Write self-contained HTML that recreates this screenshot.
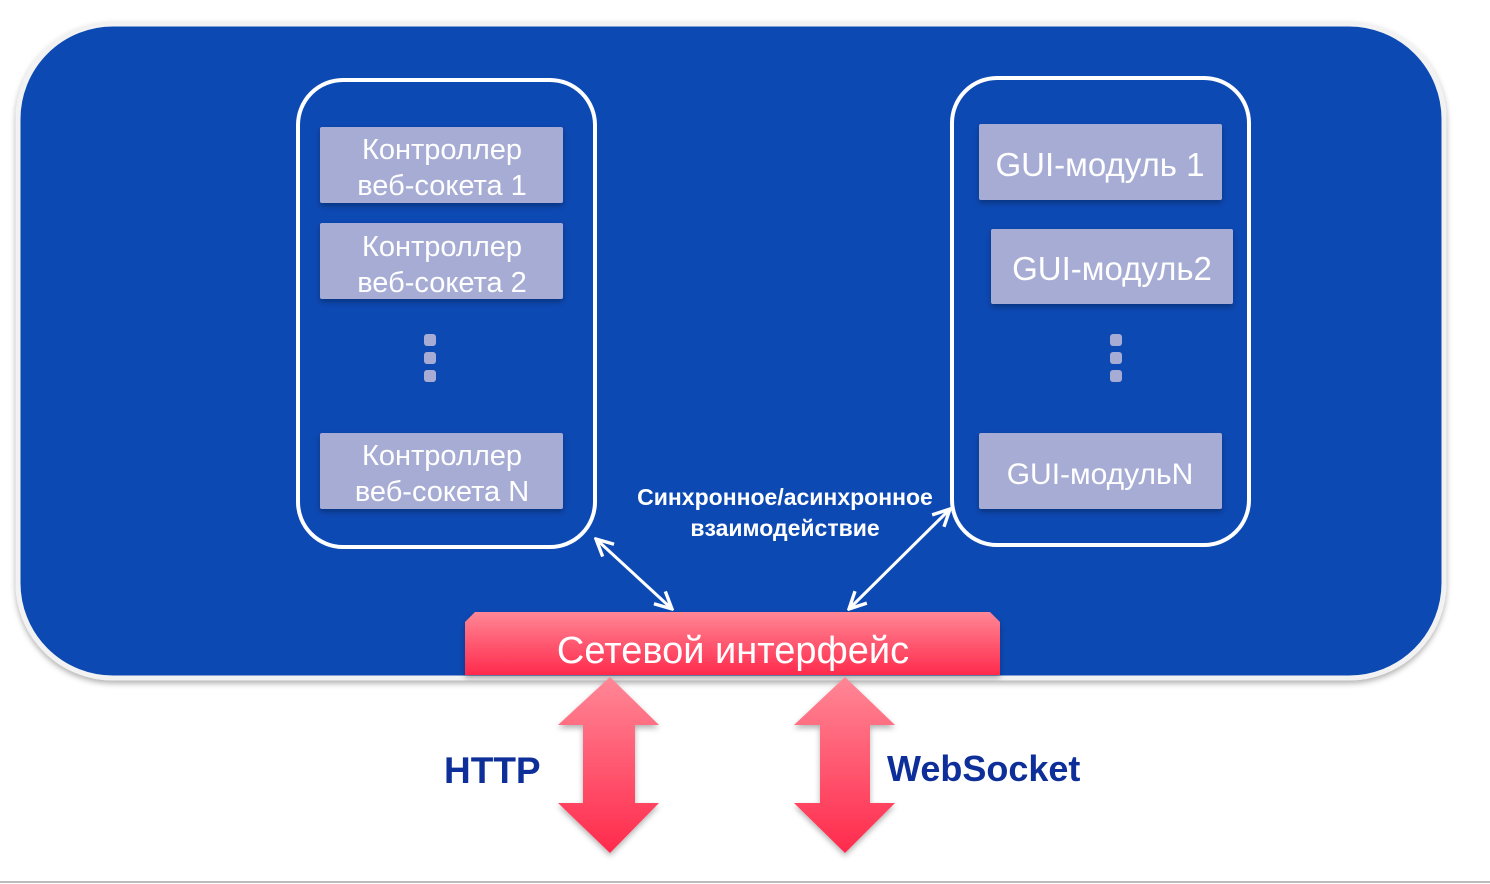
<!DOCTYPE html>
<html><head><meta charset="utf-8"><style>
html,body{margin:0;padding:0;background:#fff;}
svg{display:block;font-family:"Liberation Sans","DejaVu Sans",sans-serif;}
</style></head><body>
<svg width="1490" height="884" viewBox="0 0 1490 884" xmlns="http://www.w3.org/2000/svg">
<defs>
<linearGradient id="rg" x1="0" y1="0" x2="0" y2="1"><stop offset="0" stop-color="#ff8796"/><stop offset="1" stop-color="#ff2a4c"/></linearGradient>
<filter id="sh" x="-5%" y="-5%" width="110%" height="115%"><feDropShadow dx="0" dy="3" stdDeviation="3" flood-color="#000" flood-opacity="0.3"/></filter>
<marker id="ah" viewBox="0 0 10 10" refX="9" refY="5" markerWidth="7" markerHeight="7" orient="auto-start-reverse"><path d="M1,1 L9,5 L1,9" fill="none" stroke="#fff" stroke-width="1.6"/></marker>
</defs>
<line x1="0" y1="882" x2="1490" y2="882" stroke="#bbb" stroke-width="2"/>
<rect x="18" y="24" width="1426" height="654" rx="95" fill="#0c4ab3" stroke="#f2f2f2" stroke-width="5" filter="url(#sh)"/>
<rect x="298" y="80" width="297" height="467" rx="45" fill="none" stroke="#fff" stroke-width="4"/>
<rect x="952" y="78" width="297" height="467" rx="45" fill="none" stroke="#fff" stroke-width="4"/>
<g fill="#a6acd4" filter="url(#sh)">
<rect x="320" y="127" width="243" height="76" rx="2"/>
<rect x="320" y="223" width="243" height="76" rx="2"/>
<rect x="320" y="433" width="243" height="76" rx="2"/>
<rect x="979" y="124" width="243" height="76" rx="2"/>
<rect x="991" y="229" width="242" height="75" rx="2"/>
<rect x="979" y="433" width="243" height="76" rx="2"/>
</g>
<g fill="#a6acd4">
<rect x="424" y="334" width="12" height="12" rx="3"/><rect x="424" y="352" width="12" height="12" rx="3"/><rect x="424" y="370" width="12" height="12" rx="3"/>
<rect x="1110" y="334" width="12" height="12" rx="3"/><rect x="1110" y="352" width="12" height="12" rx="3"/><rect x="1110" y="370" width="12" height="12" rx="3"/>
</g>
<g fill="#fff" font-size="29" text-anchor="middle">
<text x="442" y="159">Контроллер</text><text x="442" y="195">веб-сокета 1</text>
<text x="442" y="256">Контроллер</text><text x="442" y="292">веб-сокета 2</text>
<text x="442" y="465">Контроллер</text><text x="442" y="501">веб-сокета N</text>
<text x="1100" y="176" font-size="33">GUI-модуль 1</text>
<text x="1112" y="280" font-size="33">GUI-модуль2</text>
<text x="1100" y="484" font-size="30">GUI-модульN</text>
</g>
<g fill="#fff" font-size="23" font-weight="bold" text-anchor="middle">
<text x="785" y="505">Синхронное/асинхронное</text>
<text x="785" y="536">взаимодействие</text>
</g>
<line x1="596" y1="539" x2="672" y2="609" stroke="#fff" stroke-width="3" marker-start="url(#ah)" marker-end="url(#ah)"/>
<line x1="950" y1="509" x2="849" y2="609" stroke="#fff" stroke-width="3" marker-start="url(#ah)" marker-end="url(#ah)"/>
<path d="M475,612 L990,612 L1000,622 L1000,675 L465,675 L465,622 Z" fill="url(#rg)" filter="url(#sh)"/>
<text x="733" y="663" fill="#fff" font-size="38" text-anchor="middle">Сетевой интерфейс</text>
<g fill="url(#rg)" filter="url(#sh)">
<path d="M610,677 L659,725 L635,725 L635,803 L659,803 L610,853 L558,803 L583,803 L583,725 L558,725 Z"/>
<path d="M845,677 L895,725 L870,725 L870,803 L895,803 L845,853 L794,803 L820,803 L820,725 L794,725 Z"/>
</g>
<g fill="#0e2f9a" font-size="37" font-weight="bold">
<text x="444" y="783">HTTP</text>
<text x="887" y="781" font-size="36">WebSocket</text>
</g>
</svg>
</body></html>
